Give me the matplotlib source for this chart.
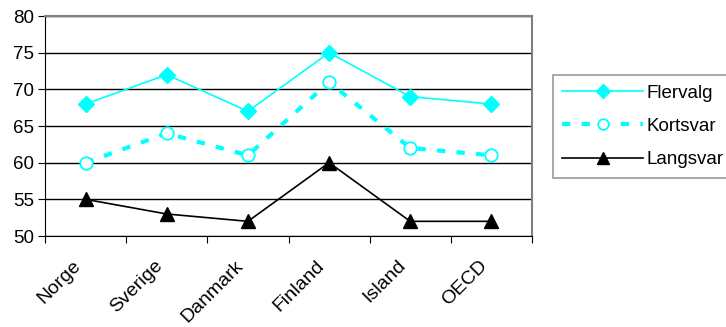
import numpy as np
import matplotlib.pyplot as plt
from matplotlib.transforms import ScaledTranslation

plt.rcParams['font.family'] = ['Liberation Sans', 'DejaVu Sans']

countries = ["Norge", "Sverige", "Danmark", "Finland", "Island", "OECD"]
flervalg = [68, 72, 67, 75, 69, 68]
kortsvar = [60, 64, 61, 71, 62, 61]
langsvar = [55, 53, 52, 60, 52, 52]

fs = 13.5

fig = plt.figure(figsize=(7.26, 3.27), dpi=100)
ax = fig.add_axes([45 / 726, 1 - 236 / 327, (532 - 45) / 726, (236 - 16) / 327])

x = np.arange(len(countries)) + 0.5
ax.plot(x, flervalg, color="#00FFFF", lw=1.2, marker="D", ms=8,
        mfc="#00FFFF", mec="#00FFFF", label="Flervalg")
ax.plot(x, kortsvar, color="#00FFFF", lw=3, ls=(0, (2, 2.7)), marker="o", ms=9,
        mfc="white", mec="#00FFFF", mew=1.3, label="Kortsvar")
ax.plot(x, langsvar, color="black", lw=1.2, marker="^", ms=10,
        mfc="black", mec="black", label="Langsvar")

ax.set_xlim(0, len(countries))
ax.set_ylim(50, 80)
ax.set_yticks(np.arange(50, 81, 5))
ax.yaxis.grid(True, color="black", lw=1)
ax.set_axisbelow(True)

ax.set_xticks(np.arange(len(countries) + 1))
ax.set_xticklabels([])
ax.set_xticks(x, minor=True)
ax.set_xticklabels(countries, minor=True, rotation=45, ha="right",
                   rotation_mode="anchor", fontsize=14)
ax.tick_params(axis="x", which="minor", length=0, pad=8)
ax.tick_params(axis="x", which="major", direction="out", length=5, color="black")
ax.tick_params(axis="y", direction="out", length=5, labelsize=fs, pad=3)

# shift the rotated labels down-left like the original
shift = ScaledTranslation(-13 / 100, -10 / 100, fig.dpi_scale_trans)
for lbl in ax.get_xticklabels(minor=True):
    lbl.set_transform(lbl.get_transform() + shift)

for s in ["top", "right"]:
    ax.spines[s].set_color("#808080")
    ax.spines[s].set_linewidth(1.5)
ax.spines["left"].set_color("black")
ax.spines["bottom"].set_color("black")

leg = fig.legend(loc="upper left", bbox_to_anchor=(553 / 726, 1 - 75 / 327),
                 fontsize=fs, frameon=True, fancybox=False, edgecolor="#808080",
                 handlelength=4.3, handletextpad=0.2, borderpad=0.5,
                 labelspacing=0.87, borderaxespad=0, markerscale=0.85)
leg.get_frame().set_linewidth(1.2)

fig.savefig("out.png", dpi=100)
